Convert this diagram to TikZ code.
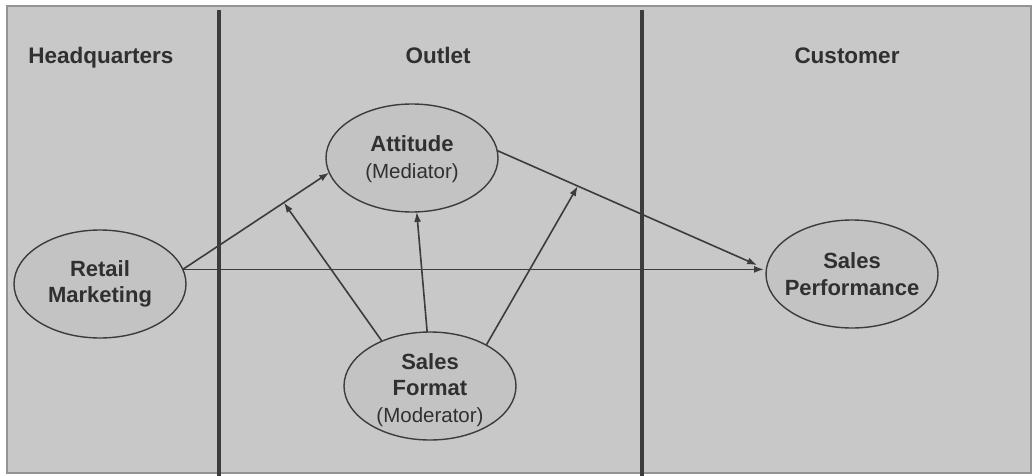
\documentclass[tikz,border=0pt]{standalone}
\usepackage{fontspec}
\setmainfont{Liberation Sans}
\usetikzlibrary{shapes.geometric,arrows.meta}
\definecolor{bg}{HTML}{C8C8C8}
\definecolor{ellfill}{HTML}{C3C3C3}
\definecolor{ink}{HTML}{303030}
\definecolor{linec}{HTML}{3C3C3C}
\newcommand{\bt}[1]{{\fontsize{22}{26.5}\selectfont\bfseries #1}}
\tikzset{
  px/.style={x=1pt,y=-1pt},
  ell/.style={ellipse,draw=linec,line width=1.4pt,fill=ellfill,inner sep=0pt,outer sep=0pt,
    minimum width=172pt,minimum height=108pt},
  lbl/.style={align=center,text=ink,inner sep=0pt,font=\fontsize{20.5}{26.5}\selectfont},
  head/.style={text=ink,font=\fontsize{22.5}{27}\selectfont\bfseries,anchor=base},
  arr/.style={draw=linec,line width=1.6pt,-{Latex[length=10pt,width=7pt]}},
  divider/.style={draw=linec,line width=3.2pt}
}
\begin{document}
\begin{tikzpicture}[px]
\useasboundingbox (0,0) rectangle (1033,476);
\fill[white] (0,0) rectangle (1033,476);
\filldraw[fill=bg,draw=gray!85,line width=1.8pt] (7,6) rectangle (1031,473);
\draw[divider] (219,10) -- (219,476);
\draw[divider] (642,10) -- (642,476);
\node[head] (hq) at (101,64) {Headquarters};
\node[head] (out) at (438,64) {Outlet};
\node[head] (cus) at (847,64) {Customer};
\node[ell] (att) at (412,158) {};
\node[ell] (rm) at (100,284) {};
\node[ell] (sf) at (430,386) {};
\node[ell] (sp) at (852,274) {};
\node[lbl] (attl) at ([yshift=-1pt]att.center) {\bt{Attitude}\\(Mediator)};
\node[lbl] (rml) at (rm) {\bt{Retail}\\\bt{Marketing}};
\node[lbl] (sfl) at ([yshift=-4pt]sf.center) {\bt{Sales}\\\bt{Format}\\(Moderator)};
\node[lbl] (spl) at (sp) {\bt{Sales}\\\bt{Performance}};
\draw[arr] (rm.10) -- (att.190) coordinate[pos=0.69] (m1);
\draw[arr] (att.5) -- ([xshift=-10pt]sp.174) coordinate[pos=0.31] (m2);
\draw[arr] (rm.10) -- ([xshift=-2pt]sp.180 |- rm.10);
\draw[arr] (sf.137) -- (m1);
\draw[arr] (sf.93) -- (att.275);
\draw[arr] (sf.36) -- (m2);
\end{tikzpicture}
\end{document}
